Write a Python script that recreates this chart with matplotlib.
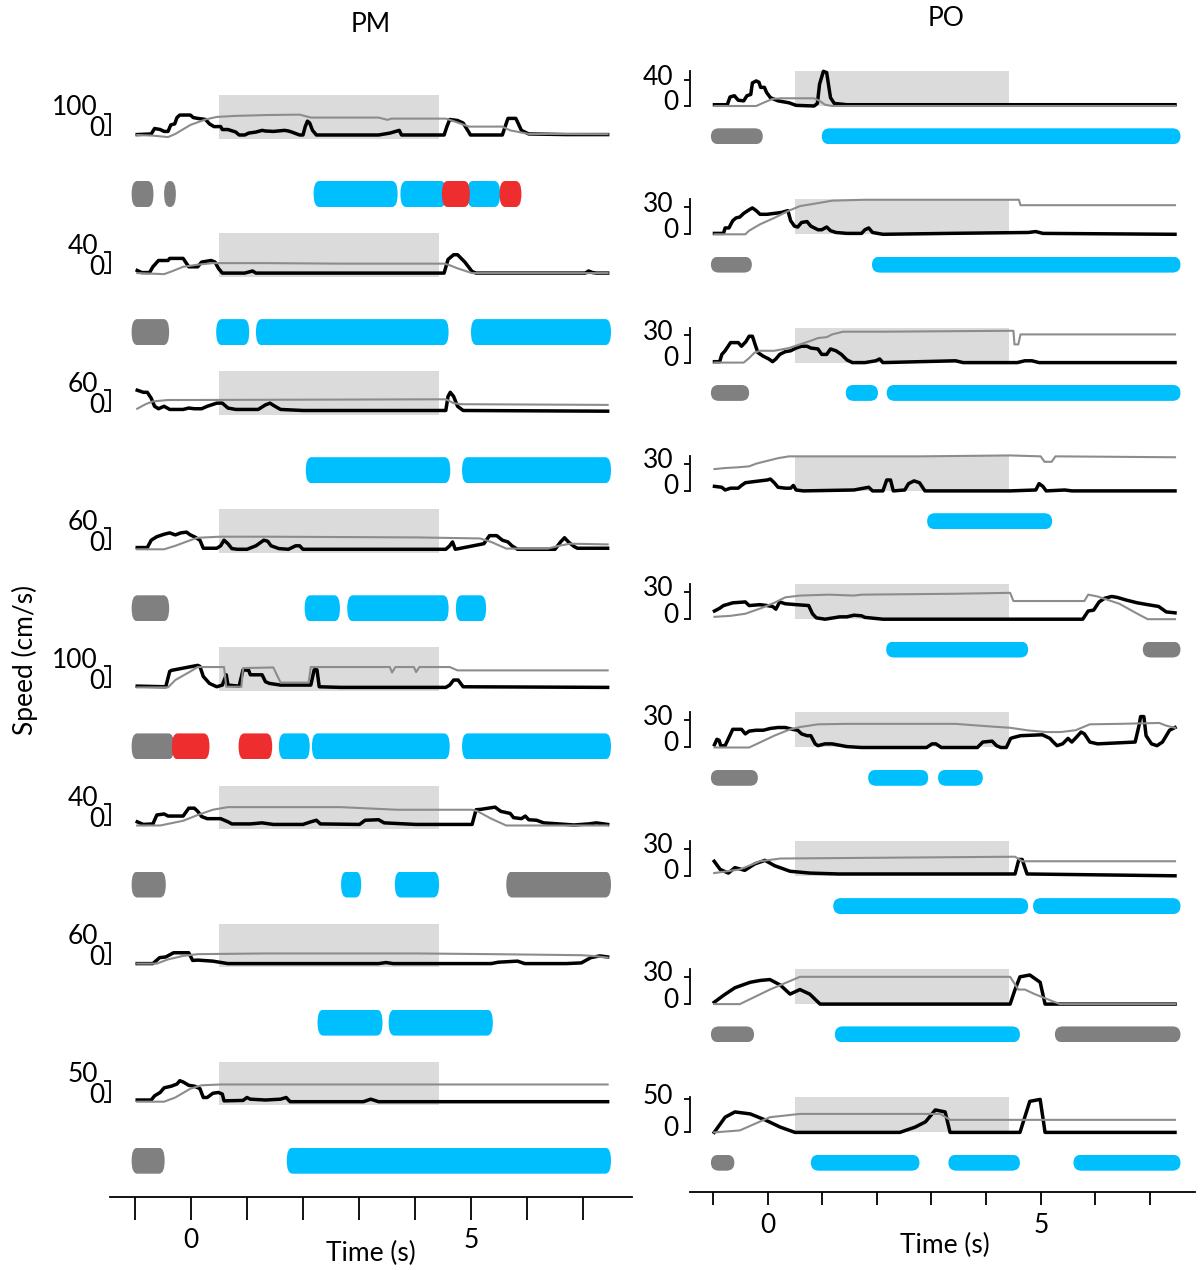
import matplotlib
matplotlib.use('Agg')
import matplotlib.pyplot as plt
from matplotlib.patches import FancyBboxPatch

plt.rcParams['font.family'] = ['Lato', 'DejaVu Sans']

W, H = 1203, 1270
STIM = (0.5, 4.42)
BOX = '#dcdbdc'
GRAY_LINE = '#8c8c8c'
BEH = {'g': '#808080', 'b': '#00bfff', 'r': '#ee2e2e'}
FS = 19

# ---------------- PM trials ----------------
pm_scale = [100, 40, 60, 60, 100, 40, 60, 50]

pm_speed_t = [
    [-0.96, -0.71, -0.65, -0.55, -0.48, -0.41, -0.36, -0.29, -0.25, -0.2, -0.01, 0.04, 0.12, 0.26, 0.33, 0.41, 0.53, 0.56, 0.66, 0.8,
     0.86, 0.96, 1.03, 1.16, 1.27, 1.33, 1.47, 1.67, 1.74, 1.8, 1.94, 2.0, 2.04, 2.08, 2.12, 2.17, 2.24, 2.68, 3.35, 3.55,
     3.72, 3.76, 4.02, 4.52, 4.57, 4.62, 4.76, 4.86, 4.96, 4.99, 5.56, 5.61, 5.66, 5.8, 5.84, 5.9, 6.03, 6.7, 7.44],
    [-0.96, -0.88, -0.74, -0.68, -0.58, -0.41, -0.38, -0.14, -0.04, 0.12, 0.19, 0.36, 0.43, 0.49, 0.56, 0.96, 1.1, 1.16, 2.0, 4.52,
     4.59, 4.69, 4.76, 4.89, 5.02, 5.09, 7.04, 7.1, 7.17, 7.24, 7.44],
    [-0.96, -0.85, -0.78, -0.71, -0.65, -0.58, -0.48, -0.38, -0.28, -0.14, -0.04, 0.06, 0.19, 0.29, 0.46, 0.56, 0.66, 0.8, 1.2, 1.33,
     1.41, 1.5, 1.6, 2.0, 4.55, 4.59, 4.63, 4.69, 4.76, 4.86, 7.44],
    [-0.96, -0.78, -0.71, -0.61, -0.48, -0.38, -0.28, -0.18, -0.08, -0.01, 0.06, 0.16, 0.22, 0.46, 0.53, 0.59, 0.66, 0.73, 0.83, 1.0,
     1.16, 1.3, 1.37, 1.43, 1.57, 1.74, 1.87, 1.94, 2.0, 4.18, 4.55, 4.62, 4.67, 4.72, 5.23, 5.33, 5.46, 5.56, 5.66, 5.73,
     5.83, 6.5, 6.6, 6.67, 6.74, 6.84, 6.9, 7.44],
    [-0.96, -0.45, -0.38, -0.35, 0.12, 0.16, 0.22, 0.33, 0.46, 0.56, 0.63, 0.66, 0.86, 0.93, 1.03, 1.06, 1.27, 1.33, 1.4, 1.6,
     2.14, 2.2, 2.25, 2.29, 2.67, 4.55, 4.62, 4.69, 4.77, 4.86, 7.44],
    [-0.96, -0.85, -0.68, -0.61, -0.48, -0.41, -0.14, -0.04, 0.06, 0.12, 0.19, 0.29, 0.53, 0.66, 0.73, 1.06, 1.27, 1.47, 2.0, 2.14,
     2.24, 2.31, 3.01, 3.11, 3.35, 3.45, 4.02, 5.02, 5.09, 5.19, 5.43, 5.53, 5.7, 5.76, 5.9, 5.97, 6.03, 6.17, 6.3, 6.57,
     6.84, 7.1, 7.24, 7.44],
    [-0.96, -0.68, -0.56, -0.45, -0.38, -0.31, -0.04, 0.03, 0.12, 0.39, 0.66, 1.33, 2.0, 3.35, 3.48, 3.61, 5.36, 5.49, 5.83, 5.96,
     6.7, 6.97, 7.14, 7.3, 7.44],
    [-0.96, -0.71, -0.65, -0.55, -0.48, -0.35, -0.25, -0.2, -0.14, -0.04, 0.06, 0.16, 0.22, 0.29, 0.39, 0.49, 0.56, 0.59, 0.93, 1.0,
     1.06, 1.33, 1.6, 1.7, 1.77, 3.08, 3.21, 3.35, 7.44],
]
pm_speed = [
    [2, 5, 31, 26, 17, 17, 48, 53, 83, 95, 95, 83, 79, 74, 53, 40, 40, 26, 26, 14,
     0, 0, 9, 14, 22, 19, 17, 22, 19, 14, 0, 0, 40, 66, 57, 22, 0, 0, 0, 9,
     22, 0, 0, 0, 40, 74, 69, 57, 14, 0, 0, 40, 79, 79, 57, 22, 5, 2, 2],
    [5, 1, 1, 12, 24, 24, 28, 28, 12, 12, 21, 24, 21, 9, 0, 0, 4, 0, 0, 0,
     26, 35, 35, 21, 3, 0, 0, 4, 1, 0, 0],
    [60, 54, 54, 37, 14, 7, 14, 5, 5, 5, 9, 7, 7, 14, 23, 23, 9, 5, 5, 18,
     23, 14, 5, 2, 2, 42, 54, 42, 14, 2, 0],
    [5, 5, 26, 36, 43, 47, 41, 47, 49, 41, 36, 26, 3, 3, 10, 26, 16, 2, 0, 0,
     10, 26, 23, 10, 2, 0, 10, 10, 0, 0, 0, 10, 21, 0, 16, 39, 39, 26, 21, 10,
     0, 0, 21, 33, 21, 8, 3, 3],
    [6, 3, 76, 81, 105, 100, 52, 19, 3, 11, 60, 11, 6, 84, 81, 60, 60, 27, 19, 11,
     11, 84, 84, 3, 0, 0, 11, 35, 35, 3, 0],
    [7, 2, 3, 20, 22, 18, 18, 33, 33, 27, 17, 13, 13, 7, 3, 3, 5, 2, 2, 7,
     10, 3, 2, 10, 11, 5, 2, 2, 30, 31, 35, 27, 23, 15, 13, 18, 11, 10, 5, 3,
     1, 3, 5, 2],
    [0, 0, 17, 19, 25, 31, 31, 9, 10, 7, 0, 0, 0, 0, 3, 0, 0, 4, 7, 0,
     0, 2, 17, 22, 19],
    [4, 4, 14, 22, 33, 37, 42, 50, 47, 39, 37, 31, 10, 10, 20, 22, 18, 2, 3, 10,
     6, 4, 6, 10, 0, 0, 6, 0, 0],
]
pm_gray_t = [
    [-0.96, -0.68, -0.41, -0.28, -0.01, 0.26, 0.46, 0.8, 1.33, 1.94, 2.14, 3.35, 3.51, 3.58, 4.55, 4.69, 4.96, 5.56, 5.7, 6.03, 7.44],
    [-0.96, -0.48, -0.35, -0.14, 0.12, 0.39, 1.33, 2.68, 4.52, 4.62, 4.76, 5.02, 7.44],
    [-0.96, -0.81, -0.68, -0.41, -0.01, 4.55, 4.69, 4.82, 7.44],
    [-0.96, -0.48, -0.28, -0.01, 0.12, 0.53, 1.33, 4.02, 5.16, 5.36, 5.63, 6.37, 6.57, 6.77, 7.44],
    [-0.96, -0.41, -0.28, -0.01, 0.12, 0.59, 0.63, 0.9, 0.93, 1.47, 1.6, 2.1, 2.14, 3.55, 3.59, 3.65, 3.98, 4.02, 4.08, 4.62,
     4.76, 7.44],
    [-0.96, -0.55, -0.14, 0.12, 0.39, 0.66, 2.67, 3.68, 5.02, 5.12, 5.36, 5.63, 7.44],
    [-0.96, -0.61, -0.41, -0.14, 0.12, 1.33, 4.02, 5.36, 6.97, 7.17, 7.44],
    [-0.96, -0.48, -0.28, -0.01, 0.19, 0.53, 7.44],
]
pm_gray = [
    [0, -3, -10, 5, 48, 74, 86, 91, 95, 97, 83, 83, 72, 78, 78, 66, 40, 40, 22, 5, 4],
    [0, -2, 3, 12, 16, 19, 19, 18, 18, 15, 9, 0, 0],
    [7, 20, 28, 32, 32, 34, 23, 20, 18],
    [0, 0, 10, 26, 33, 36, 36, 34, 31, 21, 2, 2, 10, 16, 14],
    [0, 0, 35, 76, 97, 97, 3, 3, 92, 95, 23, 23, 97, 97, 71, 97, 97, 73, 97, 97,
     81, 81],
    [0, 0, 9, 20, 30, 35, 35, 30, 30, 27, 13, 0, 0],
    [0, 0, 12, 22, 27, 29, 29, 27, 24, 22, 17],
    [0, 0, 10, 31, 39, 41, 41],
]
# behaviour epochs: (start s, end s, class)
pm_bars = [
    [(-1.06, -0.67, 'g'), (-0.48, -0.27, 'g'), (2.19, 3.69, 'b'), (3.74, 4.56, 'b'), (4.93, 5.52, 'b'),
     (4.48, 4.98, 'r'), (5.51, 5.90, 'r')],
    [(-1.06, -0.39, 'g'), (0.45, 1.04, 'b'), (1.16, 4.6, 'b'), (5.0, 7.5, 'b')],
    [(2.05, 4.63, 'b'), (4.84, 7.5, 'b')],
    [(-1.06, -0.39, 'g'), (2.03, 2.66, 'b'), (2.79, 4.6, 'b'), (4.73, 5.27, 'b')],
    [(-1.06, -0.30, 'g'), (-0.34, 0.33, 'r'), (0.85, 1.45, 'r'), (1.57, 2.12, 'b'), (2.16, 4.62, 'b'), (4.84, 7.5, 'b')],
    [(-1.06, -0.45, 'g'), (2.68, 3.04, 'b'), (3.64, 4.43, 'b'), (5.63, 7.5, 'g')],
    [(2.26, 3.42, 'b'), (3.53, 5.39, 'b')],
    [(-1.06, -0.47, 'g'), (1.71, 7.5, 'b')],
]

# ---------------- PO trials ----------------
po_scale = [40, 30, 30, 30, 30, 30, 30, 30, 50]
po_top = [54.5, 38.5, 38.5, 38.5, 38.5, 38.5, 38.5, 38.5, 53]

po_speed_t = [
    [-0.975, -0.74, -0.69, -0.61, -0.54, -0.44, -0.38, -0.31, -0.28, -0.21, -0.16, -0.13, -0.06, -0.02, 0.05, 0.19, 0.39, 0.52, 0.85, 0.91,
     0.95, 1.02, 1.08, 1.15, 1.22, 1.45, 7.46],
    [-0.975, -0.81, -0.78, -0.71, -0.64, -0.58, -0.51, -0.44, -0.34, -0.28, -0.21, -0.14, -0.01, 0.12, 0.25, 0.37, 0.42, 0.49, 0.55, 0.62,
     0.72, 0.79, 0.92, 0.99, 1.08, 1.15, 1.25, 1.45, 1.72, 1.78, 1.85, 1.92, 2.11, 3.31, 4.77, 4.91, 5.04, 7.46],
    [-0.975, -0.88, -0.84, -0.78, -0.68, -0.54, -0.48, -0.4, -0.34, -0.28, -0.22, -0.18, -0.08, 0.02, 0.09, 0.15, 0.22, 0.32, 0.42, 0.52,
     0.62, 0.72, 0.79, 0.92, 0.99, 1.08, 1.15, 1.25, 1.35, 1.45, 1.55, 1.78, 1.98, 2.05, 2.11, 3.44, 3.58, 4.57, 4.71, 4.84,
     4.97, 7.46],
    [-0.975, -0.84, -0.78, -0.68, -0.54, -0.48, -0.41, -0.28, -0.01, 0.05, 0.12, 0.19, 0.32, 0.42, 0.47, 0.52, 0.65, 1.58, 1.85, 1.92,
     2.11, 2.18, 2.25, 2.3, 2.51, 2.58, 2.68, 2.78, 2.88, 4.44, 4.91, 4.97, 5.04, 5.1, 5.44, 5.57, 7.46],
    [-0.975, -0.88, -0.81, -0.64, -0.41, -0.34, -0.14, -0.01, 0.09, 0.15, 0.22, 0.32, 0.52, 0.75, 0.82, 0.89, 1.05, 1.32, 1.45, 1.58,
     1.72, 1.78, 2.11, 5.77, 5.87, 5.97, 6.07, 6.17, 6.3, 6.4, 6.57, 6.77, 6.96, 7.16, 7.3, 7.46],
    [-0.975, -0.93, -0.89, -0.86, -0.78, -0.71, -0.64, -0.48, -0.41, -0.34, -0.21, -0.08, 0.05, 0.19, 0.32, 0.45, 0.55, 0.62, 0.72, 0.79,
     0.87, 0.92, 1.05, 1.18, 1.45, 1.72, 2.91, 3.01, 3.08, 3.18, 3.84, 3.94, 4.11, 4.19, 4.27, 4.37, 4.45, 4.5, 4.63, 5.03,
     5.17, 5.23, 5.3, 5.4, 5.5, 5.57, 5.65, 5.74, 5.8, 5.9, 6.04, 6.73, 6.8, 6.83, 6.89, 6.93, 7.03, 7.13, 7.23, 7.36,
     7.46],
    [-0.98, -0.87, -0.72, -0.6, -0.42, -0.24, -0.05, 0.13, 0.41, 0.77, 1.3, 4.53, 4.6, 4.66, 4.75, 7.46],
    [-0.98, -0.8, -0.6, -0.32, -0.14, 0.04, 0.23, 0.41, 0.59, 0.77, 0.96, 4.44, 4.53, 4.62, 4.8, 4.99, 5.08, 7.46],
    [-0.98, -0.78, -0.6, -0.32, -0.05, 0.23, 0.5, 2.42, 2.7, 2.89, 3.07, 3.25, 3.34, 4.62, 4.8, 4.99, 5.08, 5.36, 7.46],
]
po_speed = [
    [2, 2, 14, 16, 9, 8, 16, 18, 36, 39, 37, 29, 29, 21, 13, 8, 5, 1, 0, 4,
     34, 54, 52, 13, 4, 2, 2],
    [1, 1, 7, 7, 15, 18, 19, 23, 27, 29, 26, 22, 22, 23, 24, 26, 15, 9, 8, 13,
     14, 9, 5, 5, 8, 4, 2, 1, 1, 5, 7, 2, 0, 1, 2, 3, 1, 0],
    [1, 1, 9, 13, 22, 22, 18, 23, 29, 29, 18, 11, 7, 4, 1, 4, 9, 12, 13, 16,
     18, 18, 16, 15, 9, 9, 15, 13, 9, 3, 0, 0, 2, 4, 0, 2, 0, 0, 2, 2,
     0, 0],
    [5, 4, 1, 3, 3, 6, 9, 10, 12, 13, 9, 4, 3, 3, 6, 1, 0, 1, 4, 0,
     0, 12, 12, 0, 1, 8, 11, 9, 0, 0, 1, 8, 5, 0, 1, 0, 0],
    [9, 12, 15, 18, 19, 15, 16, 15, 14, 11, 19, 17, 16, 15, 6, 1.5, 0, 2.6, 2.6, 4.4,
     3.7, 2, 0, 0, 9, 10, 19, 23, 25, 24, 21, 18, 16, 14, 8, 7],
    [3, 9, 8, 2, 2, 11, 20, 20, 15, 18, 19, 19, 21, 22, 22, 20, 19, 15, 13, 13,
     4, 2, 4, 4, 1, 0, 0, 4, 4, 0, 0, 6, 7, 2, 0, 0, 10, 11, 13, 14,
     10, 6, 2, 4, 10, 6, 11, 17, 15, 6, 4, 6, 24, 34, 34, 13, 4, 2, 6, 19,
     22],
    [16, 7, 3, 9, 6, 13, 17, 11, 5, 3, 2, 2, 18, 18, 2, 0],
    [2, 10, 18, 24, 26, 27, 21, 11, 16, 11, 0, 0, 16, 30, 32, 24, 0, 0],
    [0, 23, 31, 28, 19, 8, 0, 0, 8, 16, 34, 31, 0, 0, 47, 50, 0, 0, 0],
]
po_gray_t = [
    [-0.975, -0.21, -0.08, 0.09, 0.25, 0.85, 0.95, 1.05, 1.18, 7.46],
    [-0.975, -0.41, -0.34, -0.14, 0.12, 0.39, 0.59, 0.79, 0.99, 1.18, 1.78, 4.6, 4.63, 7.46],
    [-0.975, -0.44, -0.34, -0.24, -0.14, 0.12, 0.39, 0.59, 0.79, 0.92, 1.08, 1.18, 1.38, 2.11, 4.44, 4.5, 4.52, 4.59, 4.63, 7.46],
    [-0.975, -0.81, -0.54, -0.34, -0.21, -0.01, 0.19, 0.39, 0.79, 2.78, 4.44, 5.0, 5.07, 5.2, 5.27, 7.46],
    [-0.975, -0.68, -0.41, -0.14, 0.12, 0.32, 0.59, 1.12, 1.58, 1.72, 3.44, 4.44, 4.5, 5.8, 5.87, 6.04, 6.44, 6.77, 6.96, 7.46],
    [-0.975, -0.34, -0.14, 0.12, 0.39, 0.59, 0.92, 1.45, 3.44, 4.11, 4.44, 4.77, 5.1, 5.37, 5.64, 5.9, 6.44, 7.17, 7.3, 7.46],
    [-0.98, -0.51, -0.14, 0.23, 4.53, 4.66, 7.46],
    [-0.98, -0.51, 0.04, 0.59, 4.44, 4.59, 4.71, 4.89, 5.35, 7.46],
    [-0.98, -0.51, 0.04, 0.59, 3.16, 3.34, 4.62, 7.46],
]
po_gray = [
    [0, 0, 5, 11, 12, 12, 8, 2, 0, 0],
    [0, 0, 4, 11, 18, 26, 31, 33, 35, 37, 38, 38, 32, 32],
    [0, 0, 5, 11, 13, 13, 16, 20, 24, 27, 28, 31, 34, 34, 35, 35, 20, 20, 31, 31],
    [24, 25, 26, 27, 30, 33, 36, 38, 38, 38, 39, 38, 32, 32, 38, 37],
    [2.6, 3.7, 6, 11.7, 18, 24, 26, 27, 26, 27, 28, 29, 20, 20, 27, 25, 17, 6, 0, 0],
    [0, 0, 5.6, 13, 19.5, 22.5, 25.5, 26, 26, 23, 21.7, 18.8, 17, 17, 19, 25.5, 26, 27, 24, 21.7],
    [3, 7, 16, 19, 21, 16, 16],
    [0, 0, 16, 30, 30, 16, 16, 11, 0, 0],
    [0, 3, 23, 28, 28, 19, 19, 19],
]
po_bars = [
    [(-1.04, -0.09, 'g'), (0.99, 7.56, 'b')],
    [(-1.04, -0.29, 'g'), (1.91, 7.56, 'b')],
    [(-1.04, -0.34, 'g'), (1.43, 2.02, 'b'), (2.18, 7.56, 'b')],
    [(2.92, 5.21, 'b')],
    [(2.17, 4.77, 'b'), (6.87, 7.56, 'g')],
    [(-1.04, -0.18, 'g'), (1.84, 2.94, 'b'), (3.12, 3.94, 'b')],
    [(1.2, 4.77, 'b'), (4.86, 7.56, 'b')],
    [(-1.04, -0.25, 'g'), (1.23, 4.62, 'b'), (5.26, 7.56, 'g')],
    [(-1.04, -0.61, 'g'), (0.79, 2.78, 'b'), (3.31, 4.62, 'b'), (5.6, 7.56, 'b')],
]

fig = plt.figure(figsize=(W / 100, H / 100), dpi=100)


def px_axes(x0, y0, x1, y1):
    return fig.add_axes([x0 / W, 1 - y1 / H, (x1 - x0) / W, (y1 - y0) / H])


def trace_panel(ax, t, v, gt, gv, xlim, ylim):
    ax.axvspan(*STIM, color=BOX, lw=0, zorder=0)
    ax.plot(t, v, color='black', lw=2.5, zorder=2, clip_on=False, solid_joinstyle='round')
    ax.plot(gt, gv, color=GRAY_LINE, lw=1.5, zorder=3, clip_on=False)
    ax.set_xlim(xlim)
    ax.set_ylim(ylim)
    for s in ['top', 'right', 'bottom']:
        ax.spines[s].set_visible(False)
    ax.spines['left'].set_linewidth(1.3)
    ax.set_xticks([])
    ax.patch.set_visible(False)


def scale_labels(ax, S, off0, offS):
    ax.set_yticks([0, S])
    ax.set_yticklabels([])
    ax.tick_params(axis='y', length=4, width=1.3, direction='out')
    tr = ax.get_yaxis_transform()
    ax.annotate('0', xy=(0, 0), xycoords=tr, xytext=off0, textcoords='offset pixels',
                ha='right', va='center', fontsize=FS)
    ax.annotate(str(S), xy=(0, S), xycoords=tr, xytext=offS, textcoords='offset pixels',
                ha='right', va='center', fontsize=FS)


def bar_panel(ax, bars, r, xlim):
    for t0, t1, c in bars:
        ax.add_patch(FancyBboxPatch((t0, 0), t1 - t0, 1,
                                    boxstyle=f'round,pad=0,rounding_size={r}',
                                    mutation_aspect=0.5 / r, fc=BEH[c], ec='none'))
    ax.set_xlim(xlim)
    ax.set_ylim(0, 1)
    ax.axis('off')


def time_axis(x0, x1, y, xlim, ticklen, pad):
    ax = px_axes(x0, y - 10, x1, y)
    ax.set_xlim(xlim)
    ax.set_xticks(range(-1, 8))
    ax.set_xticklabels(['0' if k == 0 else '5' if k == 5 else '' for k in range(-1, 8)])
    ax.set_yticks([])
    for s in ['top', 'right', 'left']:
        ax.spines[s].set_visible(False)
    ax.spines['bottom'].set_linewidth(1.3)
    ax.tick_params(axis='x', length=ticklen * 0.72, width=1.3, direction='out', labelsize=FS, pad=pad)
    ax.patch.set_visible(False)


# PM column
pm_xlim = (-1.446, 7.875)
for i, S in enumerate(pm_scale):
    top = 95 + 138.1 * i
    ax = px_axes(110, top, 632, top + 43.5)
    trace_panel(ax, pm_speed_t[i], pm_speed[i], pm_gray_t[i], pm_gray[i], pm_xlim, (-0.167 * S, 1.905 * S))
    ax.spines['left'].set_bounds(0, S)
    scale_labels(ax, S, (-5, 6), (-12, 6))
    bx = px_axes(110, top + 86, 632, top + 112)
    bar_panel(bx, pm_bars[i], 0.1, pm_xlim)

# PO column
po_xlim = (-1.423, 7.826)
for i, S in enumerate(po_scale):
    top = 71 + 128.3 * i
    ax = px_axes(690, top, 1195, top + 35)
    trace_panel(ax, po_speed_t[i], po_speed[i], po_gray_t[i], po_gray[i], po_xlim, (0, po_top[i]))
    scale_labels(ax, S, (-11, 4), (-17, 3))
    bx = px_axes(690, top + 57.3, 1195, top + 73.3)
    bar_panel(bx, po_bars[i], 0.146, po_xlim)

time_axis(110, 632, 1197, pm_xlim, 23, 6)
time_axis(690, 1195, 1192, po_xlim, 13, 6)

fig.text(371 / W, 1 - 1253 / H, 'Time (s)', ha='center', va='center', fontsize=FS)
fig.text(945 / W, 1 - 1245 / H, 'Time (s)', ha='center', va='center', fontsize=FS)
fig.text(371 / W, 1 - 25 / H, 'PM', ha='center', va='center', fontsize=FS)
fig.text(946 / W, 1 - 18 / H, 'PO', ha='center', va='center', fontsize=FS)
fig.text(25 / W, 1 - 660 / H, 'Speed (cm/s)', ha='center', va='center', rotation=90, fontsize=FS)

fig.savefig('out.png', dpi=100)
